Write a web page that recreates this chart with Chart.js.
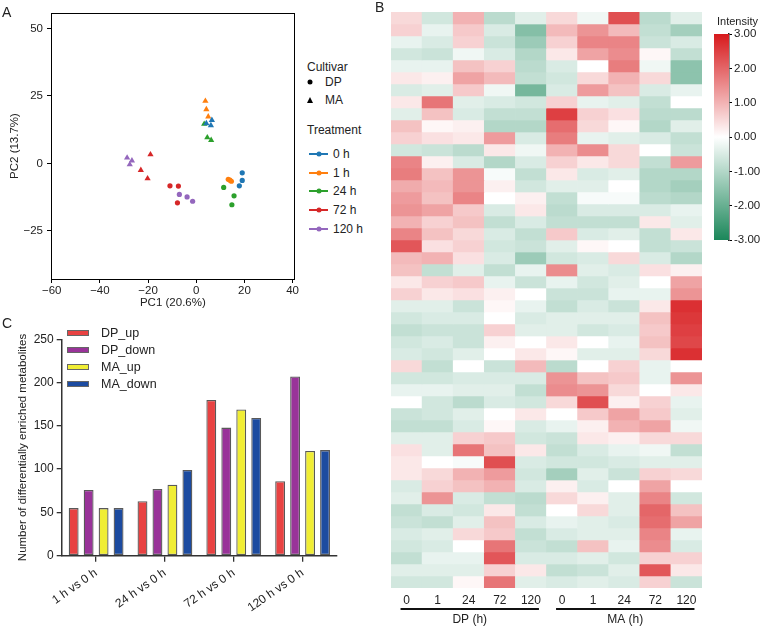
<!DOCTYPE html>
<html lang="en">
<head>
<meta charset="UTF-8">
<title>PCA, heatmap and differential metabolites</title>
<script src="https://cdn.jsdelivr.net/npm/chart.js"></script>
<style>
  body { margin: 0; background: #fff; font-family: "Liberation Sans", Arial, sans-serif; color: #222; }
  #page { position: relative; width: 762px; height: 626px; overflow: hidden; }
  canvas { position: absolute; }
  .t { position: absolute; white-space: nowrap; line-height: 1; transform: translateY(-50%); }
  .letter { position: absolute; font-size: 14px; line-height: 14px; }
  .dot { position: absolute; width: 5px; height: 5px; border-radius: 50%; transform: translate(-50%, -50%); }
  .tri { position: absolute; width: 0; height: 0; border-left: 3.5px solid transparent; border-right: 3.5px solid transparent; border-bottom: 6px solid #000; transform: translate(-50%, -50%); }
  .seg { position: absolute; height: 2px; width: 19px; transform: translateY(-50%); }
  .box { position: absolute; width: 20px; height: 4px; border: 1px solid #666; transform: translateY(-50%); }
</style>
</head>
<body>
<div id="page">
  <canvas id="pca" width="300" height="312" style="left:0;top:0"></canvas>
  <canvas id="heat" width="330" height="626" style="left:380px;top:0"></canvas>
  <canvas id="scale" width="57" height="262" style="left:705px;top:0"></canvas>
  <canvas id="bars" width="345" height="321" style="left:0;top:305px"></canvas>

  <div class="letter" style="left:2px;top:5px">A</div>
  <div class="letter" style="left:375px;top:0">B</div>
  <div class="letter" style="left:2px;top:316px">C</div>

  <div id="pcaLegend"></div>
  <div class="t" style="left:717px;top:21px;font-size:11px">Intensity</div>
  <div id="barLegend"></div>
</div>

<script>
// ---- panel A : PCA scores ----
const treatments = ['0 h', '1 h', '24 h', '72 h', '120 h'];
const dpPC1 = [[19.1, 19.1, 17.9], [13.3, 14.0, 14.6], [11.4, 15.7, 14.8], [-10.9, -7.4, -7.8], [-7.0, -3.8, -1.5]];
const dpPC2 = [[-3.5, -6.3, -8.3], [-5.9, -6.2, -6.6], [-8.9, -12.0, -15.3], [-8.3, -8.4, -14.6], [-11.5, -12.4, -14.0]];
const maPC1 = [[6.5, 6.1, 4.2], [3.8, 4.2, 5.0], [3.3, 4.6, 6.2], [-19.0, -23.0, -20.2], [-28.7, -26.7, -27.6]];
const maPC2 = [[16.0, 14.1, 14.8], [23.1, 20.0, 17.3], [14.6, 9.6, 8.6], [3.3, -2.5, -5.6], [2.1, 1.0, -0.4]];
const pc1Ticks = [-60, -40, -20, 0, 20, 40];
const pc2Ticks = [50, 25, 0, -25];

// ---- panel B : heatmap (one array per sample column, top row first) ----
const heatLabels = ['0', '1', '24', '72', '120', '0', '1', '24', '72', '120'];
const dp0h = [0.5, 0.6, -0.3, -0.6, -0.3, 0.3, -0.5, 0.3, -0.4, 0.8, 0.6, -0.6,
  1.6, 1.7, 1.1, 1.3, 1.4, 1.0, 1.6, 2.2, 0.9, 0.8, 0.3, 0.6,
  -0.4, -0.6, -0.8, -0.6, -0.5, 0.5, -0.6, -0.3, 0.0, -0.7, -0.8, -0.4,
  0.4, 0.3, 0.3, -0.5, -0.4, -0.8, -0.7, -0.5, -0.6, -0.8, -0.4, -0.6];
const dp1h = [-0.6, -0.3, -0.5, -0.7, -0.3, 0.2, -0.4, 1.8, 0.8, 0.1, 0.4, -0.7,
  0.2, 0.8, 0.9, 0.8, 1.2, 0.6, 0.8, 0.4, 1.0, -0.8, 0.6, 0.3,
  -0.4, -0.5, -0.7, -0.5, -0.6, -0.8, -0.6, -0.3, -0.6, -0.6, -0.8, -0.4,
  -0.4, 0.0, 0.5, 0.6, 1.4, -0.5, -0.8, -0.4, -0.5, -0.3, -0.4, -0.6];
const dp24h = [1.0, 0.7, 0.6, -0.2, 0.8, 1.2, 0.7, -0.4, -0.5, 0.2, 0.3, -0.9,
  -0.5, 1.4, 1.4, 1.6, 0.7, 0.8, 0.5, 0.6, 0.4, -0.4, 0.7, 0.4,
  -0.7, -0.5, -0.7, -0.7, -0.4, 0.0, -0.5, -0.4, -0.9, -0.4, -0.5, 0.6,
  1.8, -0.1, 1.0, 0.8, -0.5, -0.6, -0.4, 0.5, 0.0, -0.3, -0.4, 0.1];
const dp72h = [-0.9, -0.5, -0.7, -0.5, 0.6, 0.9, -0.2, -0.5, -0.8, -1.0, 1.3, 0.3,
  -1.0, -0.1, 0.2, 0.0, -0.5, -0.8, -0.5, -0.6, -0.5, -0.8, -0.3, 0.2,
  0.1, 0.0, 0.6, 0.2, 0.0, -0.7, -0.5, -0.4, -0.5, 0.0, 0.1, 0.7,
  0.8, 2.3, 1.3, 1.0, -0.8, 0.3, 0.8, 0.7, 1.8, 2.2, 0.6, 1.8];
const dp120h = [-0.4, -1.6, -1.3, -1.0, -0.9, -0.8, -1.8, -0.6, -0.8, -1.0, -0.5, -0.2,
  -0.5, -0.8, -0.6, 0.2, 0.3, -0.5, -0.8, -0.7, -1.3, -0.3, -0.7, 0.0,
  -0.3, -0.5, -0.4, 0.0, 0.3, 0.9, -0.5, -0.8, -0.6, 0.3, -0.5, -0.6,
  0.3, -0.5, -0.6, -0.5, -0.9, -0.8, -0.5, -0.8, -0.7, -0.5, 0.3, -0.4];
const ma0h = [0.5, 0.9, 0.6, 0.3, -0.5, -0.6, -0.5, 0.6, 2.5, 1.9, 1.7, 1.0,
  0.6, 0.3, -0.4, -0.8, -0.9, -0.8, 0.7, -0.4, -0.6, 1.5, -0.3, -0.7,
  -0.8, -0.4, -0.4, 0.3, 0.1, -0.9, 1.4, 1.5, 0.5, 0.0, -0.3, -0.7,
  -0.8, -0.6, -1.2, 0.2, 0.5, 0.0, -0.3, -0.5, -0.8, -0.5, -0.8, -0.5];
const ma1h = [-0.2, 1.4, 1.6, 1.2, 0.0, 0.5, 1.3, -0.3, 0.6, 0.5, -0.3, 1.5,
  0.3, -0.5, -0.4, -0.1, -0.5, -0.8, -0.5, 0.1, -0.5, -0.4, -0.6, -0.7,
  -0.5, -0.4, -0.6, 0.0, -0.4, 0.0, 0.8, 1.4, 2.3, 0.7, 0.2, 0.3,
  -0.5, -0.6, -0.4, -0.5, 0.2, 0.5, -0.4, -0.4, 0.8, -0.4, -0.7, -0.4];
const ma24h = [2.3, 0.9, 1.6, 1.5, 1.7, 1.0, 0.8, -0.4, 0.4, 0.1, -0.4, 0.5,
  0.5, -0.4, 0.0, -0.1, -0.5, -0.8, -0.4, 0.0, 0.5, -0.5, -0.4, -0.3,
  -0.7, -0.4, -0.5, -0.3, -0.4, 0.6, 0.7, 0.5, 0.2, 1.2, 1.0, 0.2,
  -0.3, -0.5, -0.7, 0.0, -0.4, -0.4, -0.5, -0.4, -0.3, -0.6, -0.4, -0.5];
const ma72h = [-0.9, -0.8, -0.7, 0.1, -0.2, 0.5, -0.5, -0.8, -0.9, -1.0, -0.5, 0.0,
  -0.8, -1.0, -1.0, -0.9, -0.5, 0.3, -0.8, -0.8, -0.5, 0.4, 0.0, -0.3,
  0.3, 0.8, 0.7, 0.8, 0.5, -0.3, -0.3, 0.0, 0.6, 0.7, 1.2, 0.5,
  -0.2, -0.4, 0.6, 1.2, 1.6, 2.0, 1.9, 1.6, 1.5, 0.6, 2.2, 0.6];
const ma120h = [-0.4, -1.2, -0.5, -0.8, -1.5, -1.5, -0.3, 0.0, -0.9, -0.4, -0.8, -0.7,
  1.3, -1.0, -1.2, -1.0, -0.3, -0.4, 0.3, -0.7, -1.0, 0.2, 1.2, 1.4,
  2.7, 2.6, 2.5, 2.4, 2.7, 0.0, 1.4, 0.3, -0.3, -0.4, -0.2, 0.5,
  -0.8, -0.4, 0.5, 0.0, -0.6, 0.8, 1.2, -0.3, -0.5, 0.6, 0.3, -0.7];
const heatColumns = [dp0h, dp1h, dp24h, dp72h, dp120h, ma0h, ma1h, ma24h, ma72h, ma120h];
const groupNames = ['DP (h)', 'MA (h)'];

// ---- panel C : counts of differentially enriched metabolites ----
const comparisons = ['1 h vs 0 h', '24 h vs 0 h', '72 h vs 0 h', '120 h vs 0 h'];
const dpUp = [55, 63, 180, 86];
const dpDown = [76, 77, 148, 207];
const maUp = [55, 82, 169, 121];
const maDown = [55, 99, 159, 122];

// styles
const treatColors = ['#1f77b4', '#ff7f0e', '#2ca02c', '#d62728', '#9467bd'];
const barColors = ['#e84242', '#993399', '#f0ed34', '#1c4ba0'];
const RED = [215, 25, 28], GREEN = [27, 135, 90];
const FONT = '"Liberation Sans", Arial, sans-serif';
Chart.defaults.font.family = FONT;
Chart.defaults.color = '#222';

function minus(v) { return String(v).replace('-', '\u2212'); }
function heatColor(v) {
  const t = Math.min(Math.abs(v), 3) / 3;
  const end = v >= 0 ? RED : GREEN;
  const c = end.map(e => Math.round(255 + (e - 255) * t));
  return `rgb(${c[0]},${c[1]},${c[2]})`;
}

const frame = {
  id: 'frame',
  afterDraw(chart) {
    const a = chart.chartArea, ctx = chart.ctx;
    ctx.save();
    ctx.strokeStyle = '#000';
    ctx.lineWidth = 1;
    ctx.strokeRect(Math.round(a.left) + 0.5, Math.round(a.top) + 0.5, Math.round(a.right - a.left) - 1, Math.round(a.bottom - a.top));
    ctx.restore();
  }
};

// ---- A ----
const pcaSets = [];
treatments.forEach((t, i) => {
  pcaSets.push({
    label: 'DP ' + t, pointStyle: 'circle', pointRadius: 2.6,
    data: dpPC1[i].map((x, k) => ({ x: x, y: dpPC2[i][k] })),
    backgroundColor: treatColors[i], borderColor: treatColors[i], borderWidth: 0
  });
  pcaSets.push({
    label: 'MA ' + t, pointStyle: 'triangle', pointRadius: 3.6,
    data: maPC1[i].map((x, k) => ({ x: x, y: maPC2[i][k] })),
    backgroundColor: treatColors[i], borderColor: treatColors[i], borderWidth: 0
  });
});

new Chart(document.getElementById('pca'), {
  type: 'scatter',
  data: { datasets: pcaSets },
  options: {
    responsive: false, animation: false,
    layout: { padding: { top: 13, right: 1, left: 0, bottom: 0 } },
    plugins: { legend: { display: false }, tooltip: { enabled: false } },
    scales: {
      x: {
        type: 'linear', min: -60.3, max: 40.9,
        afterBuildTicks: s => { s.ticks = pc1Ticks.map(v => ({ value: v })); },
        afterFit: s => { s.height = 33; },
        grid: { drawOnChartArea: false, tickLength: 4, color: '#000' },
        border: { display: false },
        ticks: { font: { size: 11.5 }, padding: 1, maxRotation: 0, callback: v => minus(v) },
        title: { display: true, text: 'PC1 (20.6%)', font: { size: 11.5 }, padding: { top: 0, bottom: 2 } }
      },
      y: {
        type: 'linear', min: -42.8, max: 55.7,
        afterBuildTicks: s => { s.ticks = pc2Ticks.map(v => ({ value: v })); },
        afterFit: s => { s.width = 51; },
        grid: { drawOnChartArea: false, tickLength: 4, color: '#000' },
        border: { display: false },
        ticks: { font: { size: 11.5 }, padding: 4, callback: v => minus(v) },
        title: { display: true, text: 'PC2 (13.7%)', font: { size: 11.5 }, padding: { top: 8, bottom: 0 } }
      }
    }
  },
  plugins: [frame]
});

// legend of A
(function () {
  let h = '';
  h += '<div class="t" style="left:307px;top:67px;font-size:12px">Cultivar</div>';
  h += '<div class="dot" style="left:310px;top:82px;background:#000"></div>';
  h += '<div class="t" style="left:325px;top:82px;font-size:12px">DP</div>';
  h += '<div class="tri" style="left:310px;top:100px"></div>';
  h += '<div class="t" style="left:325px;top:100px;font-size:12px">MA</div>';
  h += '<div class="t" style="left:307px;top:130px;font-size:12px">Treatment</div>';
  treatments.forEach((t, i) => {
    const y = 154 + i * 18.7;
    h += `<div class="seg" style="left:309px;top:${y}px;background:${treatColors[i]}"></div>`;
    h += `<div class="dot" style="left:318.5px;top:${y}px;background:${treatColors[i]}"></div>`;
    h += `<div class="t" style="left:333px;top:${y}px;font-size:12px">${t}</div>`;
  });
  document.getElementById('pcaLegend').innerHTML = h;
})();

// ---- B ----
const nRows = dp0h.length;
const heatSets = [];
for (let r = 0; r < nRows; r++) {
  heatSets.push({
    data: heatColumns.map(() => [r, r + 1]),
    backgroundColor: heatColumns.map(col => heatColor(col[r])),
    borderWidth: 0, barPercentage: 1, categoryPercentage: 1, grouped: false
  });
}

const groupLines = {
  id: 'groupLines',
  afterDraw(chart) {
    const x = chart.scales.x, ctx = chart.ctx;
    const groups = [[0, 4], [5, 9]];
    ctx.save();
    ctx.strokeStyle = '#111';
    ctx.lineWidth = 2;
    ctx.fillStyle = '#222';
    ctx.font = '12px ' + FONT;
    ctx.textAlign = 'center';
    ctx.textBaseline = 'middle';
    groups.forEach((g, i) => {
      const x0 = x.getPixelForValue(g[0]) - 6, x1 = x.getPixelForValue(g[1]) + 8;
      ctx.beginPath();
      ctx.moveTo(x0, 609);
      ctx.lineTo(x1, 609);
      ctx.stroke();
      ctx.fillText(groupNames[i], (x0 + x1) / 2, 620);
    });
    ctx.restore();
  }
};

new Chart(document.getElementById('heat'), {
  type: 'bar',
  data: { labels: heatLabels, datasets: heatSets },
  options: {
    responsive: false, animation: false,
    layout: { padding: { top: 12, left: 11, right: 8, bottom: 0 } },
    plugins: { legend: { display: false }, tooltip: { enabled: false } },
    scales: {
      x: {
        afterFit: s => { s.height = 38; },
        grid: { display: false, drawTicks: false }, border: { display: false },
        ticks: { font: { size: 12 }, padding: 5, maxRotation: 0, autoSkip: false }
      },
      y: { type: 'linear', min: 0, max: nRows, reverse: true, display: false }
    }
  },
  plugins: [groupLines]
});

// colour scale
new Chart(document.getElementById('scale'), {
  type: 'bar',
  data: {
    labels: [''],
    datasets: [{
      data: [[-3, 3]], borderWidth: 0, barPercentage: 1, categoryPercentage: 1,
      backgroundColor: c => {
        const a = c.chart.chartArea;
        if (!a) return '#fff';
        const g = c.chart.ctx.createLinearGradient(0, a.bottom, 0, a.top);
        g.addColorStop(0, `rgb(${GREEN.join(',')})`);
        g.addColorStop(0.5, '#ffffff');
        g.addColorStop(1, `rgb(${RED.join(',')})`);
        return g;
      }
    }]
  },
  options: {
    responsive: false, animation: false,
    layout: { padding: { top: 34, left: 9, right: 0, bottom: 22 } },
    plugins: { legend: { display: false }, tooltip: { enabled: false } },
    scales: {
      x: { display: false },
      y: {
        position: 'right', min: -3, max: 3,
        afterFit: s => { s.width = 33; },
        grid: { drawOnChartArea: false, tickLength: 3, color: '#000' },
        border: { color: '#222', width: 1.5 },
        ticks: { stepSize: 1, font: { size: 11.5 }, padding: 2, callback: v => v.toFixed(2) }
      }
    }
  }
});

// ---- C ----
const barSeries = [
  { label: 'DP_up', data: dpUp },
  { label: 'DP_down', data: dpDown },
  { label: 'MA_up', data: maUp },
  { label: 'MA_down', data: maDown }
];

new Chart(document.getElementById('bars'), {
  type: 'bar',
  data: {
    labels: comparisons,
    datasets: barSeries.map((s, i) => ({
      label: s.label, data: s.data,
      backgroundColor: barColors[i], borderColor: '#595959', borderWidth: 1.3, borderSkipped: false,
      categoryPercentage: 0.87, barPercentage: 0.66
    }))
  },
  options: {
    responsive: false, animation: false,
    layout: { padding: { top: 34.3, right: 8, left: 0, bottom: 0 } },
    plugins: { legend: { display: false }, tooltip: { enabled: false } },
    scales: {
      x: {
        afterFit: s => { s.height = 70.3; },
        grid: { drawOnChartArea: false, offset: false, tickLength: 6, color: '#333', lineWidth: 1.3 },
        border: { color: '#333', width: 1.5 },
        ticks: { font: { size: 12 }, padding: 4, minRotation: 35, maxRotation: 35, autoSkip: false }
      },
      y: {
        min: 0, max: 250,
        afterFit: s => { s.width = 61.7; },
        grid: { drawOnChartArea: false, tickLength: 5, color: '#333', lineWidth: 1.3 },
        border: { color: '#333', width: 1.5 },
        ticks: { stepSize: 50, font: { size: 12 }, padding: 3 },
        title: { display: true, text: 'Number of differentially enriched metabolites', font: { size: 11.5 }, padding: { top: 16, bottom: 0 } }
      }
    }
  }
});

(function () {
  let h = '';
  barSeries.forEach((s, i) => {
    const y = 332.7 + i * 17;
    h += `<div class="box" style="left:67px;top:${y}px;background:${barColors[i]}"></div>`;
    h += `<div class="t" style="left:101px;top:${y}px;font-size:12.5px">${s.label}</div>`;
  });
  document.getElementById('barLegend').innerHTML = h;
})();
</script>
</body>
</html>
